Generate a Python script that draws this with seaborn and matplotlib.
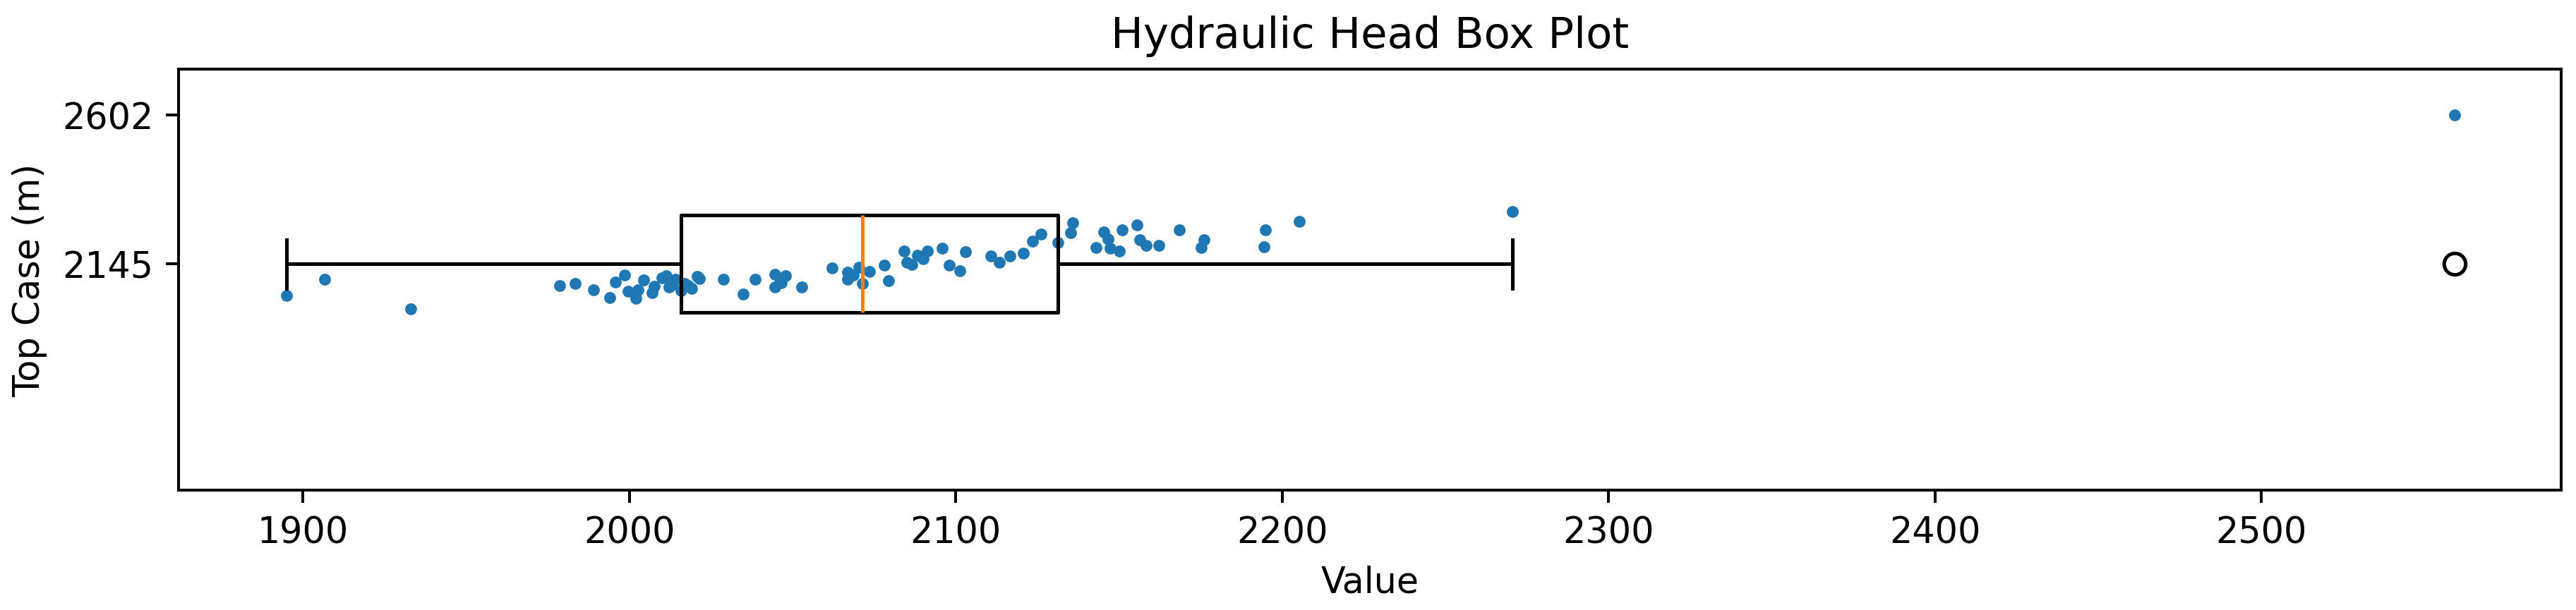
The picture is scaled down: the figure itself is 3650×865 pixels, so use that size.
import matplotlib
matplotlib.use("Agg")
import matplotlib.pyplot as plt
import seaborn as sns

# valores: carga hidráulica (x) e topo do revestimento (y)
carga_hidraulica = [
    1895.0, 1906.7, 1933.1, 1978.7, 1983.3, 1989.1, 1994.0, 1995.7, 1998.5, 1999.6,
    2002.1, 2002.6, 2004.3, 2007.0, 2007.6, 2010.0, 2011.2, 2012.2, 2013.0, 2014.2,
    2015.9, 2016.9, 2018.0, 2019.1, 2020.8, 2021.5, 2028.9, 2034.9, 2038.5, 2044.5,
    2044.7, 2046.0, 2046.5, 2047.8, 2052.8, 2062.2, 2066.9, 2066.9, 2068.5, 2070.4,
    2071.3, 2073.5, 2078.2, 2079.5, 2084.2, 2085.0, 2086.6, 2088.2, 2090.0, 2091.2,
    2095.8, 2098.0, 2101.3, 2103.0, 2110.7, 2113.4, 2116.6, 2120.6, 2123.6, 2126.2,
    2131.4, 2135.3, 2135.8, 2142.9, 2145.3, 2146.6, 2147.4, 2150.1, 2151.0, 2155.6,
    2156.3, 2158.4, 2162.3, 2168.6, 2175.2, 2176.1, 2194.5, 2194.8, 2205.3, 2270.6,
    2559.3,
]
topo_revestimento = [
    2048, 2098, 2007, 2079, 2084, 2065, 2041, 2088, 2111, 2061,
    2039, 2066, 2095, 2057, 2077, 2102, 2109, 2073, 2080, 2098,
    2062, 2084, 2079, 2070, 2107, 2100, 2097, 2052, 2097, 2113,
    2073, 2099, 2087, 2109, 2073, 2133, 2119, 2098, 2110, 2135,
    2084, 2122, 2142, 2093, 2185, 2150, 2143, 2171, 2160, 2184,
    2194, 2140, 2124, 2182, 2169, 2149, 2169, 2178, 2214, 2237,
    2210, 2241, 2272, 2196, 2243, 2221, 2194, 2184, 2249, 2265,
    2218, 2201, 2201, 2249, 2196, 2220, 2198, 2249, 2276, 2306,
    2602,
]
posicao_box = 2145
ticks_y = [2145, 2602]

fig, ax = plt.subplots(figsize=(3651 / 365, 866 / 365), dpi=365)
fig.subplots_adjust(left=0.0692, right=0.9940, bottom=0.1963, top=0.8861)

sns.scatterplot(x=carga_hidraulica, y=topo_revestimento, s=11, linewidth=0,
                color='#1f77b4', ax=ax)
ax.boxplot(carga_hidraulica, orientation='horizontal', positions=[posicao_box],
           widths=300)

ax.set_xlim(1861.8, 2591.9)
ax.set_ylim(1450, 2744)
ax.set_yticks(ticks_y)
ax.set_yticklabels([str(t) for t in ticks_y])
ax.set_title('Hydraulic Head Box Plot')
ax.set_xlabel('Value')
ax.set_ylabel('Top Case (m)')

fig.savefig('out.png', dpi=365)
